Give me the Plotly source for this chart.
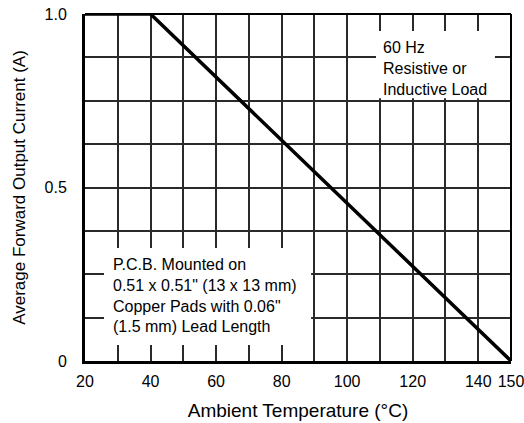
import plotly.graph_objects as go

# Derating curve data
temperature_c = [20, 40, 150]
current_a = [1.0, 1.0, 0.0]

x_tick_vals = [20, 40, 60, 80, 100, 120, 140, 150]
x_tick_text = ["20", "40", "60", "80", "100", "120", "140", "150"]
y_tick_vals = [0, 0.5, 1.0]
y_tick_text = ["0", "0.5", "1.0"]

note_top = "60 Hz<br>Resistive or<br>Inductive Load"
note_bottom = ("P.C.B. Mounted on<br>0.51 x 0.51\" (13 x 13 mm)<br>"
               "Copper Pads with 0.06\"<br>(1.5 mm) Lead Length")

FONT = "Liberation Sans, Arial, Helvetica, sans-serif"

fig = go.Figure()
fig.add_trace(go.Scatter(
    x=temperature_c, y=current_a, mode="lines",
    line=dict(color="black", width=3.5), showlegend=False, hoverinfo="skip",
))

grid_col = "#2a2a2a"
fig.update_xaxes(
    range=[20, 150], tickvals=x_tick_vals, ticktext=x_tick_text,
    showgrid=True, gridcolor=grid_col, gridwidth=1.5,
    minor=dict(dtick=10, tick0=20, showgrid=True, gridcolor=grid_col, gridwidth=1.5),
    showline=True, linecolor="black", linewidth=3, mirror=False,
    ticks="", zeroline=False, automargin=False, ticklabelstandoff=4,
    ticklabeloverflow="allow",
    tickfont=dict(family=FONT, size=16, color="black"),
    title=dict(text="Ambient Temperature (°C)", font=dict(family=FONT, size=19, color="black"), standoff=15),
)
fig.update_yaxes(
    range=[0, 1.0], tickvals=y_tick_vals, ticktext=y_tick_text,
    showgrid=True, gridcolor=grid_col, gridwidth=1.5,
    minor=dict(dtick=0.125, tick0=0, showgrid=True, gridcolor=grid_col, gridwidth=1.5),
    showline=True, linecolor="black", linewidth=3, mirror=False,
    ticks="", zeroline=False, automargin=False, ticklabelstandoff=12,
    ticklabeloverflow="allow",
    tickfont=dict(family=FONT, size=16, color="black"),
    title=dict(text="Average Forward Output Current (A)", font=dict(family=FONT, size=17, color="black"), standoff=15),
)

# top and right frame edges (thinner)
fig.add_shape(type="line", xref="x domain", yref="y domain", x0=0, x1=1, y0=1, y1=1,
              line=dict(color="black", width=2))
fig.add_shape(type="line", xref="x domain", yref="y domain", x0=1, x1=1, y0=0, y1=1,
              line=dict(color="black", width=2))

# white boxes behind notes
fig.add_shape(type="rect", xref="x", yref="y", x0=108.8, x1=145.1, y0=0.757, y1=0.951,
              fillcolor="white", line=dict(width=0), layer="above")
fig.add_shape(type="rect", xref="x", yref="y", x0=25.8, x1=89.0, y0=0.046, y1=0.326,
              fillcolor="white", line=dict(width=0), layer="above")

fig.add_annotation(x=110.4, y=0.935, xref="x", yref="y", text=note_top, showarrow=False,
                   xanchor="left", yanchor="top", align="left",
                   font=dict(family=FONT, size=16, color="black"))
fig.add_annotation(x=28.0, y=0.307, xref="x", yref="y", text=note_bottom, showarrow=False,
                   xanchor="left", yanchor="top", align="left",
                   font=dict(family=FONT, size=16, color="black"))

fig.update_layout(
    width=524, height=423,
    margin=dict(l=85, r=13, t=14, b=62),
    paper_bgcolor="white", plot_bgcolor="white",
    font=dict(family=FONT, color="black"),
)
fig.write_html("out.html", config={"displayModeBar": False},
               post_script="document.body.style.margin='0';document.body.style.padding='0';")
